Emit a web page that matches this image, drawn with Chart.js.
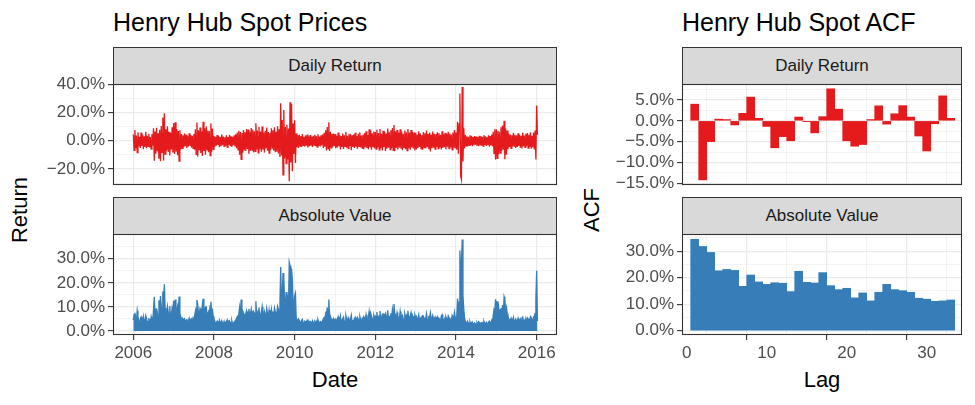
<!DOCTYPE html>
<html><head><meta charset="utf-8">
<script src="https://cdn.jsdelivr.net/npm/chart.js@4/dist/chart.umd.min.js"></script>
<style>
html,body{margin:0;padding:0;background:#fff;}
body{width:975px;height:405px;position:relative;overflow:hidden;font-family:"Liberation Sans",Arial,sans-serif;}
.t{position:absolute;white-space:nowrap;line-height:1;}
.title{font-size:25px;color:#000;}
.axt{font-size:22px;color:#000;transform:translate(-50%,-50%);}
.axr{font-size:22px;color:#000;transform:translate(-50%,-50%) rotate(-90deg);}
.strip{position:absolute;background:#D9D9D9;border:1px solid #333;box-sizing:border-box;display:flex;align-items:center;justify-content:center;font-size:17px;color:#1A1A1A;}
canvas{position:absolute;}
</style></head><body>
<div class="t title" style="left:113px;top:10px;">Henry Hub Spot Prices</div>
<div class="t title" style="left:682px;top:10px;">Henry Hub Spot ACF</div>
<div class="strip" style="left:113px;top:47px;width:444px;height:38px;">Daily Return</div>
<div class="strip" style="left:113px;top:197px;width:444px;height:38px;">Absolute Value</div>
<div class="strip" style="left:682px;top:47px;width:280px;height:38px;">Daily Return</div>
<div class="strip" style="left:682px;top:197px;width:280px;height:38px;">Absolute Value</div>
<div class="t axr" style="left:20px;top:210px;">Return</div>
<div class="t axr" style="left:592px;top:210px;">ACF</div>
<div class="t axt" style="left:335px;top:380px;">Date</div>
<div class="t axt" style="left:822px;top:380px;">Lag</div>
<script>
// ---- Daily returns (%), one value per week ----
const ret2006 = [4.5,-6.8,7.6,-5.5,3.8,-8.4,6.1,-4.0,2.9,-5.1,5.8,-3.6,4.2,-6.0,3.1,-4.4,6.4,-5.2,3.5,-3.9,5.0,-4.8,2.7,-5.9,4.6,-3.3,
  8.8,-14.2,6.5,-9.1,9.2,-7.5,5.4,-12.8,7.8,-14.5,10.5,-8.2,16.4,-13.9,19.4,-9.5,8.1,-6.8,10.2,-7.9,6.3,-10.4,5.7,-6.1,9.6,-8.3];
const ret2007 = [12.6,-9.4,13.1,-7.8,8.3,-10.2,6.9,-14.3,7.4,-6.2,4.8,-5.3,3.9,-4.6,5.1,-3.8,4.4,-5.0,3.2,-4.1,5.3,-3.7,4.0,-4.9,3.6,-5.4,
  4.7,-6.3,8.2,-9.6,12.9,-11.1,7.5,-6.8,9.4,-8.7,6.6,-10.8,13.4,-7.2,8.8,-9.9,10.1,-6.4,7.3,-8.1,6.9,-10.5,12.2,-7.7,8.6,-6.0];
const ret2008 = [3.6,-4.2,2.8,-3.5,4.1,-2.9,3.3,-4.5,2.6,-3.8,4.4,-3.1,3.0,-4.0,2.5,-3.4,3.9,-4.6,2.7,-3.0,4.2,-3.6,3.1,-4.3,2.9,-3.2,
  3.8,-4.1,4.6,-5.2,5.9,-6.4,7.1,-9.8,6.2,-13.1,5.5,-8.4,7.6,-6.9,6.0,-7.3,8.4,-5.8,7.9,-9.2,6.4,-7.0,9.1,-6.6,8.0,-8.3];
const ret2009 = [6.8,-7.4,12.4,-6.1,7.2,-8.6,9.7,-5.9,6.5,-7.8,10.1,-6.3,5.8,-8.2,7.0,-5.4,9.3,-7.1,6.2,-8.7,5.6,-6.6,8.9,-5.2,7.5,-6.9,
  9.6,-8.1,6.4,-7.7,10.3,-9.0,8.2,-11.5,26.6,-10.4,14.7,-24.1,21.8,-12.6,9.8,-16.2,11.4,-13.3,8.7,-28.6,27.2,-15.4,26.0,-21.5,12.3,-9.4];
const ret2010 = [14.6,-15.7,5.1,-4.6,3.9,-5.0,4.3,-3.7,3.4,-4.4,4.8,-3.2,2.9,-4.1,3.7,-3.5,4.5,-4.8,3.1,-3.9,4.0,-3.4,2.8,-4.3,3.6,-3.0,
  4.2,-3.8,3.3,-4.5,4.7,-3.6,3.0,-4.0,3.8,-3.3,4.4,-5.1,5.6,-4.2,7.4,-6.8,9.8,-5.5,13.1,-7.2,6.3,-5.0,4.9,-4.4,5.2,-3.9];
const ret2011 = [4.8,-5.3,3.6,-4.7,5.9,-3.8,4.1,-6.2,3.3,-4.4,5.2,-5.8,3.9,-4.0,6.4,-4.9,3.5,-5.5,4.6,-3.7,5.0,-6.6,3.8,-4.3,4.4,-5.1,
  5.7,-4.2,3.4,-5.6,4.9,-3.9,6.1,-4.8,3.7,-5.2,4.3,-6.0,5.4,-4.5,6.8,-5.0,4.0,-5.9,8.1,-4.6,7.5,-6.3,5.3,-4.1,6.6,-5.4];
const ret2012 = [6.2,-5.8,7.9,-4.7,5.5,-6.4,8.3,-5.1,4.9,-6.9,7.1,-4.4,6.5,-7.3,5.2,-5.6,8.6,-4.9,6.0,-6.2,7.4,-5.3,9.0,-6.7,11.2,-7.4,
  6.8,-5.0,7.7,-6.1,5.6,-4.8,8.1,-5.7,6.3,-6.6,5.0,-4.6,7.2,-5.9,6.1,-7.0,8.4,-5.2,5.8,-6.3,7.6,-4.7,6.4,-5.5,5.9,-6.8];
const ret2013 = [5.6,-6.1,4.5,-5.0,6.7,-4.3,5.1,-5.7,4.0,-6.4,6.2,-4.8,5.3,-5.2,7.3,-4.6,4.8,-6.0,5.9,-7.6,4.4,-5.3,6.5,-4.9,5.0,-5.8,
  4.7,-4.4,6.0,-5.5,5.4,-4.7,4.2,-6.2,6.8,-5.1,4.6,-4.5,5.7,-5.9,4.9,-4.2,6.3,-5.6,5.1,-4.8,4.5,-6.5,5.8,-4.9,7.7,-5.4];
const ret2014 = [5.8,-6.3,13.5,-9.1,12.0,33.4,-24.8,-27.4,38.0,-14.6,9.2,-5.5,4.1,-3.6,3.2,-4.0,2.8,-3.3,3.9,-2.9,3.5,-3.8,2.6,-3.1,3.4,-2.7,
  3.0,-3.5,2.7,-3.9,3.6,-2.8,3.3,-3.4,2.9,-3.7,4.0,-3.0,3.1,-3.6,2.5,-3.2,3.8,-4.1,3.4,-3.3,4.5,-3.9,6.4,-8.9,8.1,-13.2];
const ret2015 = [8.1,-12.4,7.0,-9.6,6.3,-8.8,9.5,-7.1,10.8,-6.4,14.2,-13.0,8.6,-9.9,7.2,-6.0,5.1,-4.6,4.4,-5.3,3.9,-4.1,5.6,-3.7,4.2,-5.0,
  3.8,-4.4,5.3,-3.6,4.1,-4.9,3.5,-5.4,5.8,-4.0,3.7,-4.7,4.9,-3.9,5.5,-5.1,4.3,-4.3,6.0,-5.6,3.6,-4.8,5.9,-6.2,7.3,-13.3];
const ret2016 = [25.0,4.2];
const retYears = [2006,2007,2008,2009,2010,2011,2012,2013,2014,2015,2016];
const retByYear = [ret2006,ret2007,ret2008,ret2009,ret2010,ret2011,ret2012,ret2013,ret2014,ret2015,ret2016];

// ---- ACF (%), lags 1..33 ----
const acfLags = [1,2,3,4,5,6,7,8,9,10,11,12,13,14,15,16,17,18,19,20,21,22,23,24,25,26,27,28,29,30,31,32,33];
const acfReturn = [4.0,-14.2,-5.0,0.4,0.3,-1.0,1.8,5.7,0.6,-1.35,-6.5,-3.8,-4.8,0.9,-0.2,-2.9,1.0,7.7,2.8,-4.8,-6.1,-5.7,0.3,3.6,-0.8,1.7,3.65,0.9,-3.65,-7.25,-0.7,6.0,0.6];
const acfAbs = [34.4,31.75,29.5,22.6,23.1,22.75,16.75,21.0,18.4,17.5,18.1,17.9,14.75,22.4,18.25,18.0,21.9,17.0,15.5,16.0,12.4,14.25,11.25,14.5,17.5,15.5,15.1,14.5,12.25,11.9,11.1,11.25,11.6];

// ---- tick labels ----
const dateMajor = [2006,2008,2010,2012,2014,2016], dateMinor = [2007,2009,2011,2013,2015];
const lagMajor = [0,10,20,30], lagMinor = [5,15,25];
const retMajor = [-0.2,0,0.2,0.4], retMinor = [-0.3,-0.1,0.1,0.3];
const absMajor = [0,0.1,0.2,0.3], absMinor = [0.05,0.15,0.25,0.35];
const acfRetMajor = [-0.15,-0.1,-0.05,0,0.05], acfRetMinor = [-0.125,-0.075,-0.025,0.025,0.075];
const acfAbsMajor = [0,0.1,0.2,0.3], acfAbsMinor = [0.05,0.15,0.25,0.35];

// ---- build data ----
const retPts = [];
retByYear.forEach((arr, k) => arr.forEach((v, w) => retPts.push({x: retYears[k] + w/52, y: v/100})));
const absPts = retPts.map(p => ({x: p.x, y: Math.abs(p.y)}));
const acfRetPts = acfLags.map((l,i) => ({x:l, y:acfReturn[i]/100}));
const acfAbsPts = acfLags.map((l,i) => ({x:l, y:acfAbs[i]/100}));

const RED = '#E41A1C', BLUE = '#377EB8';
const FONT = "'Liberation Sans', Arial, sans-serif";
function pct(v){ const s=(Math.abs(v)*100).toFixed(1)+'%'; return v < -1e-9 ? '\u2212'+s : s; }
function yearFmt(v){ return String(Math.round(v)); }
function intFmt(v){ return String(Math.round(v)); }
const has = (arr, v) => arr.some(a => Math.abs(a - v) < 1e-7);
function zeroPad(s){ s.paddingTop = 0; s.paddingBottom = 0; s.paddingLeft = 0; s.paddingRight = 0; }

function axis(range, major, minor, show, fit, isY, fmt){
  const all = major.concat(minor).filter(v => v >= range[0] && v <= range[1]).sort((a,b)=>a-b);
  return {
    type:'linear', min:range[0], max:range[1], offset:false, bounds:'data',
    afterBuildTicks: s => { s.ticks = all.map(v => ({value:v})); },
    afterFit: s => { if (isY) s.width = fit; else s.height = fit; zeroPad(s); },
    border:{display:false},
    grid:{
      color:'#EBEBEB',
      lineWidth: c => (c.tick && has(major, c.tick.value)) ? 1.2 : 0.6,
      drawTicks: show, tickLength:5, tickWidth:1.1,
      tickColor: c => (c.tick && has(major, c.tick.value)) ? '#333333' : 'rgba(0,0,0,0)'
    },
    ticks:{display:show, autoSkip:false, maxRotation:0, minRotation:0, padding:3, color:'#4D4D4D',
      font:{family:FONT, size:17}, callback: v => has(major, v) ? fmt(v) : ''}
  };
}
const boxPlugin = { id:'box', afterDraw(chart){ const a = chart.chartArea, ctx = chart.ctx;
  ctx.save(); ctx.strokeStyle='#333333'; ctx.lineWidth=1.1;
  ctx.strokeRect(a.left+0.5, a.top+0.5, a.right-a.left-1, a.bottom-a.top-1); ctx.restore(); } };

function panel(px, pw, py, ph, yW, showX, type, ds, xAxis, yAxis){
  const PT = 12, PR = 3, xH = showX ? 36 : 12;
  const W = yW + pw + PR, H = PT + ph + xH;
  const c = document.createElement('canvas');
  c.width = W; c.height = H;
  c.style.left = (px - yW) + 'px'; c.style.top = (py - PT) + 'px';
  c.style.width = W + 'px'; c.style.height = H + 'px';
  document.body.appendChild(c);
  xAxis.afterFit = s => { s.height = xH; zeroPad(s); };
  new Chart(c.getContext('2d'), {
    type: type, data:{datasets: ds},
    options:{responsive:false, animation:false, devicePixelRatio:1,
      layout:{padding:{top:PT, right:PR, left:0, bottom:0}},
      plugins:{legend:{display:false}, tooltip:{enabled:false}},
      scales:{x:xAxis, y:yAxis}},
    plugins:[boxPlugin]
  });
}

const dateRange = [2005.496, 2016.504], lagRange = [-0.5875, 34.41];
// Left top: daily return
panel(113, 444, 84, 101, 113, false, 'line',
  [{data:retPts, parsing:false, borderColor:RED, borderWidth:1.3, pointRadius:0, tension:0, fill:false}],
  axis(dateRange, dateMajor, dateMinor, false, 12, false, yearFmt),
  axis([-0.313, 0.402], retMajor, retMinor, true, 113, true, pct));
// Left bottom: absolute value
panel(113, 444, 234, 101, 113, true, 'line',
  [{data:absPts, parsing:false, borderColor:BLUE, backgroundColor:BLUE, borderWidth:1.3, pointRadius:0, tension:0, fill:'origin'}],
  axis(dateRange, dateMajor, dateMinor, true, 36, false, yearFmt),
  axis([-0.0165, 0.403], absMajor, absMinor, true, 113, true, pct));
// Right top: ACF daily return
panel(682, 280, 84, 101, 82, false, 'bar',
  [{data:acfRetPts, backgroundColor:RED, borderWidth:0, barPercentage:1, categoryPercentage:1}],
  axis(lagRange, lagMajor, lagMinor, false, 12, false, intFmt),
  axis([-0.1543, 0.0885], acfRetMajor, acfRetMinor, true, 82, true, pct));
// Right bottom: ACF absolute value
panel(682, 280, 234, 101, 82, true, 'bar',
  [{data:acfAbsPts, backgroundColor:BLUE, borderWidth:0, barPercentage:1, categoryPercentage:1}],
  axis(lagRange, lagMajor, lagMinor, true, 36, false, intFmt),
  axis([-0.016, 0.3645], acfAbsMajor, acfAbsMinor, true, 82, true, pct));
</script>
</body></html>
